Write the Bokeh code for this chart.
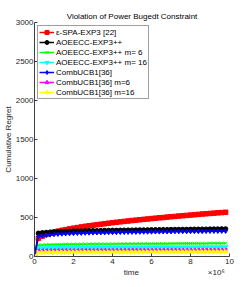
import math
from bokeh.plotting import figure
from bokeh.models import Legend, LegendItem, FixedTicker, AllLabels
from bokeh.embed import file_html
from bokeh.resources import INLINE

time = [0.0, 0.2, 0.4, 0.6, 0.8, 1.0, 1.2, 1.4, 1.6, 1.8,
        2.0, 2.2, 2.4, 2.6, 2.8, 3.0, 3.2, 3.4, 3.6, 3.8,
        4.0, 4.2, 4.4, 4.6, 4.8, 5.0, 5.2, 5.4, 5.6, 5.8,
        6.0, 6.2, 6.4, 6.6, 6.8, 7.0, 7.2, 7.4, 7.6, 7.8,
        8.0, 8.2, 8.4, 8.6, 8.8, 9.0, 9.2, 9.4, 9.6, 9.8]

spa_exp3 = [0, 235, 262, 282, 298, 312, 325, 336, 345, 354,
            363, 371, 379, 387, 394, 401, 408, 414, 420, 427,
            433, 439, 444, 450, 455, 461, 466, 471, 476, 481,
            486, 491, 496, 500, 505, 510, 514, 518, 523, 527,
            531, 536, 540, 544, 548, 552, 556, 560, 563, 567]

aoeecc = [0, 298, 304, 308, 312, 315, 317, 319, 321, 323,
          325, 326, 327, 328, 329, 330, 331, 332, 333, 334,
          335, 335, 336, 337, 338, 338, 339, 340, 340, 341,
          342, 342, 343, 344, 344, 345, 346, 346, 347, 347,
          348, 349, 349, 350, 350, 351, 352, 352, 353, 353]

aoeecc_m6 = [0, 145, 148, 150, 152, 153, 154, 155, 156, 156,
             157, 157, 158, 158, 159, 159, 160, 160, 160, 161,
             161, 161, 162, 162, 162, 163, 163, 163, 164, 164,
             164, 165, 165, 165, 165, 166, 166, 166, 167, 167,
             167, 167, 168, 168, 168, 169, 169, 169, 169, 170]

aoeecc_m16 = [0, 105, 107, 108, 109, 110, 110, 111, 111, 112,
              112, 112, 113, 113, 113, 114, 114, 114, 114, 115,
              115, 115, 115, 116, 116, 116, 116, 116, 117, 117,
              117, 117, 117, 118, 118, 118, 118, 118, 119, 119,
              119, 119, 119, 120, 120, 120, 120, 120, 121, 121]

combucb = [0, 255, 264, 271, 277, 282, 286, 289, 292, 294,
           296, 298, 299, 301, 302, 303, 304, 305, 306, 307,
           308, 309, 310, 310, 311, 312, 312, 313, 314, 314,
           315, 316, 316, 317, 317, 318, 319, 319, 320, 320,
           321, 321, 322, 322, 323, 323, 324, 324, 325, 325]

combucb_m6 = [0, 70, 71, 72, 72, 73, 73, 73, 74, 74,
              74, 74, 75, 75, 75, 75, 75, 75, 76, 76,
              76, 76, 76, 76, 76, 77, 77, 77, 77, 77,
              77, 77, 77, 78, 78, 78, 78, 78, 78, 78,
              78, 78, 79, 79, 79, 79, 79, 79, 79, 79]

combucb_m16 = [0, 50, 52, 53, 54, 54, 55, 55, 55, 56,
               56, 56, 56, 57, 57, 57, 57, 57, 57, 58,
               58, 58, 58, 58, 58, 58, 58, 59, 59, 59,
               59, 59, 59, 59, 59, 59, 60, 60, 60, 60,
               60, 60, 60, 60, 60, 60, 61, 61, 61, 61]

labels = ["\u03b5-SPA-EXP3 [22]", "AOEECC-EXP3++", "AOEECC-EXP3++ m= 6",
          "AOEECC-EXP3++ m= 16", "CombUCB1[36]", "CombUCB1[36] m=6",
          "CombUCB1[36] m=16"]
series = [spa_exp3, aoeecc, aoeecc_m6, aoeecc_m16, combucb, combucb_m6, combucb_m16]
colors = ["#ff0000", "#000000", "#00ff00", "#00ffff", "#0000ff", "#ff00ff", "#ffff00"]
markers = ["square", "circle", "x", "inverted_triangle", "diamond", "triangle", "triangle"]
angles = [0, 0, 0, 0, 0, math.pi / 2, -math.pi / 2]

x_ticks = [0, 2, 4, 6, 8, 10]
y_ticks = [0, 500, 1000, 1500, 2000, 2500, 3000]
x_label = "time"
x_scale_note = "\u00d710\u2076"

FONT = "Liberation Sans"
AX = "#404040"

p = figure(width=252, height=287, output_backend="svg", toolbar_location=None,
           x_range=(0, 10), y_range=(0, 3000),
           title="Violation of Power Bugedt Constraint",
           min_border_left=32, min_border_right=23, min_border_top=22,
           min_border_bottom=31)
p.outline_line_color = None
p.grid.visible = False
p.background_fill_color = "white"
p.title.align = "center"
p.title.text_font = FONT
p.title.text_font_size = "8px"
p.title.text_font_style = "normal"
p.title.text_color = "#000000"
p.title.standoff = 4

for ax in (p.xaxis[0], p.yaxis[0]):
    ax.axis_line_color = AX
    ax.major_tick_line_color = AX
    ax.minor_tick_line_color = None
    ax.major_tick_in = 3
    ax.major_tick_out = 0
    ax.major_label_text_font = FONT
    ax.major_label_text_font_size = "8px"
    ax.major_label_text_color = "#262626"
    ax.major_label_policy = AllLabels()
    ax.axis_label_text_font = FONT
    ax.axis_label_text_font_size = "8px"
    ax.axis_label_text_font_style = "normal"
    ax.axis_label_text_color = "#262626"

p.xaxis.major_label_standoff = 2
p.xaxis.axis_label_standoff = 1
p.yaxis.major_label_standoff = 1
p.yaxis.axis_label_standoff = 0

p.xaxis.ticker = FixedTicker(ticks=x_ticks)
p.yaxis.ticker = FixedTicker(ticks=y_ticks)
p.yaxis.major_label_overrides = {t: str(t) for t in y_ticks}
p.xaxis.major_label_overrides = {t: str(t) for t in x_ticks}
# "time" centred, scale note pushed to the right end with non-breaking spaces
nb = "\u00a0"
p.xaxis.axis_label = nb * 38 + x_label + nb * 31 + x_scale_note
p.yaxis.axis_label = "Cumulative Regret"

items = []
for lab, ys, c, m, a in zip(labels, series, colors, markers, angles):
    ln = p.line(time, ys, line_color=c, line_width=1.5)
    sc = p.scatter(time, ys, marker=m, size=4.5, angle=a,
                   fill_color=c, line_color=c, line_width=1)
    items.append(LegendItem(label=lab, renderers=[ln, sc]))

leg = Legend(items=items, location="top_left", margin=3, padding=1, spacing=0,
             glyph_width=15, glyph_height=10, label_height=10, label_standoff=2,
             label_text_font=FONT, label_text_font_size="8px",
             label_text_color="#000000", border_line_color="#404040",
             border_line_width=1, background_fill_alpha=1)
p.add_layout(leg)

open("out.html", "w").write(file_html(p, INLINE))
